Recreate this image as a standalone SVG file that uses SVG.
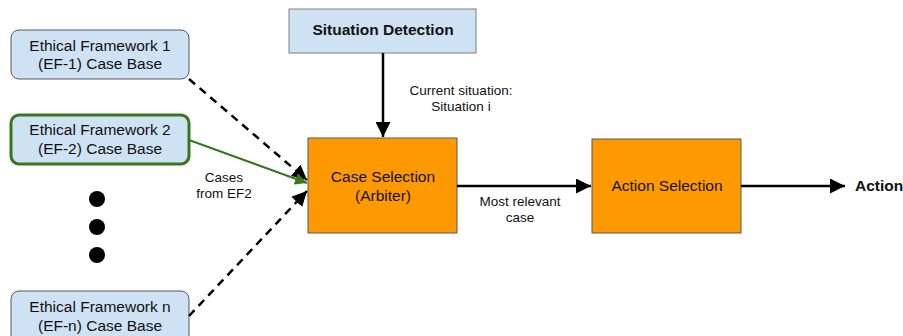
<svg xmlns="http://www.w3.org/2000/svg" width="903" height="336" viewBox="0 0 903 336">
<defs>
<marker id="ah" viewBox="0 0 10 10" refX="10" refY="5" markerWidth="6" markerHeight="6" orient="auto" markerUnits="strokeWidth"><path d="M0,0 L10,5 L0,10 z" fill="#000"/></marker>
<marker id="ahg" viewBox="0 0 10 10" refX="10" refY="5" markerWidth="6" markerHeight="6" orient="auto" markerUnits="strokeWidth"><path d="M0,0 L10,5 L0,10 z" fill="#38761d"/></marker>
<style>
text{font-family:"Liberation Sans",Arial,sans-serif;font-size:15.5px;fill:#111;text-anchor:middle}
.lbl{font-size:13.5px}
.b{font-weight:bold}
.ef{fill:#cfe2f3;stroke:#595959;stroke-width:1}
.or{fill:#ff9900;stroke:#595959;stroke-width:1}
.c{fill:none;stroke:#000;stroke-width:2.5}
</style>
</defs>
<g id="ef1"><rect class="ef" x="11" y="30" width="178" height="49" rx="8"/><text x="100" y="51">Ethical Framework 1</text><text x="100" y="69">(EF-1) Case Base</text></g>
<g id="ef2"><rect class="ef" x="11" y="115" width="178" height="49" rx="8" style="stroke:#38761d;stroke-width:3"/><text x="100" y="135">Ethical Framework 2</text><text x="100" y="154">(EF-2) Case Base</text></g>
<g id="dots"><circle cx="97" cy="199" r="8"/><circle cx="97" cy="227" r="8"/><circle cx="97" cy="255" r="8"/></g>
<g id="efn"><rect class="ef" x="11" y="291" width="178" height="52" rx="8"/><text x="100" y="312">Ethical Framework n</text><text x="100" y="331">(EF-n) Case Base</text></g>
<g id="sd"><rect class="ef" x="289" y="9" width="187" height="44" style="stroke:#7f7f7f"/><text class="b" x="383" y="35">Situation Detection</text></g>
<g id="cs"><rect class="or" x="308" y="138" width="149" height="95"/><text x="383" y="182">Case Selection</text><text x="383" y="201">(Arbiter)</text></g>
<g id="as"><rect class="or" x="592" y="139" width="149" height="94"/><text x="667" y="191">Action Selection</text></g>
<g id="action"><text class="b" x="855" y="191" style="text-anchor:start">Action</text></g>
<g id="connectors">
<line class="c" x1="189" y1="79" x2="307" y2="180" stroke-dasharray="8,6" marker-end="url(#ah)"/>
<line class="c" x1="189" y1="316" x2="307" y2="191" stroke-dasharray="8,6" marker-end="url(#ah)"/>
<line x1="189" y1="140" x2="307" y2="183" stroke="#38761d" stroke-width="2" marker-end="url(#ahg)"/>
<line class="c" x1="383" y1="53" x2="383" y2="137" marker-end="url(#ah)"/>
<line class="c" x1="457" y1="186" x2="591" y2="186" marker-end="url(#ah)"/>
<line class="c" x1="741" y1="186" x2="845" y2="186" marker-end="url(#ah)"/>
<text class="lbl" x="461" y="95">Current situation:</text>
<text class="lbl" x="461" y="111">Situation i</text>
<text class="lbl" x="520" y="206">Most relevant</text>
<text class="lbl" x="520" y="222">case</text>
<text class="lbl" x="224" y="182">Cases</text>
<text class="lbl" x="224" y="198">from EF2</text>
</g>
</svg>
